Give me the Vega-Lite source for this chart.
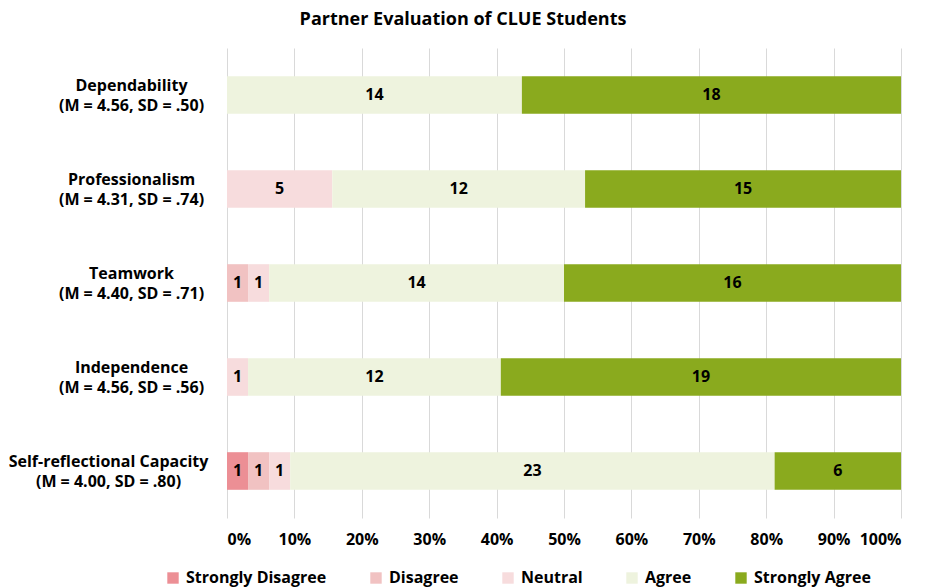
{
  "$schema": "https://vega.github.io/schema/vega-lite/v6.json",
  "width": 674,
  "height": 470,
  "autosize": "none",
  "padding": {"left": 227, "top": 48, "right": 24, "bottom": 70},
  "background": "white",
  "title": {
    "text": "Partner Evaluation of CLUE Students",
    "anchor": "middle",
    "dx": -101,
    "offset": 19,
    "font": "Open Sans",
    "fontSize": 18,
    "fontWeight": "bold",
    "color": "#000000"
  },
  "config": {"view": {"stroke": null}, "font": "Open Sans"},
  "data": {
    "values": [
      {"item": "Dependability|(M = 4.56, SD = .50)", "rank": 1, "response": "Agree", "ord": 4, "count": 14},
      {"item": "Dependability|(M = 4.56, SD = .50)", "rank": 1, "response": "Strongly Agree", "ord": 5, "count": 18},
      {"item": "Professionalism|(M = 4.31, SD = .74)", "rank": 2, "response": "Neutral", "ord": 3, "count": 5},
      {"item": "Professionalism|(M = 4.31, SD = .74)", "rank": 2, "response": "Agree", "ord": 4, "count": 12},
      {"item": "Professionalism|(M = 4.31, SD = .74)", "rank": 2, "response": "Strongly Agree", "ord": 5, "count": 15},
      {"item": "Teamwork|(M = 4.40, SD = .71)", "rank": 3, "response": "Disagree", "ord": 2, "count": 1},
      {"item": "Teamwork|(M = 4.40, SD = .71)", "rank": 3, "response": "Neutral", "ord": 3, "count": 1},
      {"item": "Teamwork|(M = 4.40, SD = .71)", "rank": 3, "response": "Agree", "ord": 4, "count": 14},
      {"item": "Teamwork|(M = 4.40, SD = .71)", "rank": 3, "response": "Strongly Agree", "ord": 5, "count": 16},
      {"item": "Independence|(M = 4.56, SD = .56)", "rank": 4, "response": "Neutral", "ord": 3, "count": 1},
      {"item": "Independence|(M = 4.56, SD = .56)", "rank": 4, "response": "Agree", "ord": 4, "count": 12},
      {"item": "Independence|(M = 4.56, SD = .56)", "rank": 4, "response": "Strongly Agree", "ord": 5, "count": 19},
      {"item": "Self-reflectional Capacity|(M = 4.00, SD = .80)", "rank": 5, "response": "Strongly Disagree", "ord": 1, "count": 1},
      {"item": "Self-reflectional Capacity|(M = 4.00, SD = .80)", "rank": 5, "response": "Disagree", "ord": 2, "count": 1},
      {"item": "Self-reflectional Capacity|(M = 4.00, SD = .80)", "rank": 5, "response": "Neutral", "ord": 3, "count": 1},
      {"item": "Self-reflectional Capacity|(M = 4.00, SD = .80)", "rank": 5, "response": "Agree", "ord": 4, "count": 23},
      {"item": "Self-reflectional Capacity|(M = 4.00, SD = .80)", "rank": 5, "response": "Strongly Agree", "ord": 5, "count": 6}
    ]
  },
  "transform": [
    {"stack": "count", "groupby": ["item"], "sort": [{"field": "ord", "order": "ascending"}], "offset": "normalize", "as": ["x0", "x1"]},
    {"calculate": "(datum.x0 + datum.x1) / 2", "as": "xm"}
  ],
  "encoding": {
    "y": {
      "field": "item",
      "type": "nominal",
      "sort": {"field": "rank", "op": "min", "order": "ascending"},
      "scale": {"paddingInner": 0.6, "paddingOuter": 0.3},
      "axis": {
        "title": null,
        "domain": false,
        "ticks": false,
        "labelExpr": "split(datum.label, '|')",
        "labelFont": "Open Sans",
        "labelFontSize": 16,
        "labelFontWeight": "bold",
        "labelColor": "#000000",
        "labelAlign": "center",
        "labelPadding": {"condition": {"test": "indexof(datum.value, 'Self') == 0", "value": 119}, "value": 96},
        "labelLineHeight": 20,
        "labelOffset": -9,
        "labelLimit": 300
      }
    }
  },
  "layer": [
    {
      "mark": {"type": "bar"},
      "encoding": {
        "x": {
          "field": "x0",
          "type": "quantitative",
          "scale": {"domain": [0, 1]},
          "axis": {
            "title": null,
            "format": ".0%",
            "values": [0, 0.1, 0.2, 0.3, 0.4, 0.5, 0.6, 0.7, 0.8, 0.9, 1],
            "labelOverlap": false,
            "domain": false,
            "ticks": false,
            "grid": true,
            "gridColor": "#d9d9d9",
            "gridWidth": 1,
            "labelFont": "Open Sans",
            "labelFontSize": 16,
            "labelFontWeight": "bold",
            "labelColor": "#000000",
            "labelPadding": 13
          }
        },
        "x2": {"field": "x1"},
        "color": {
          "field": "response",
          "type": "nominal",
          "scale": {
            "domain": ["Strongly Disagree", "Disagree", "Neutral", "Agree", "Strongly Agree"],
            "range": ["#ec8f95", "#f1c2c2", "#f7dcdd", "#eef3de", "#8aaa1e"]
          },
          "legend": {
            "title": null,
            "orient": "none",
            "direction": "horizontal",
            "legendX": -62,
            "legendY": 522,
            "symbolType": "square",
            "symbolSize": 130,
            "symbolStrokeWidth": 0,
            "labelFont": "Open Sans",
            "labelFontSize": 16,
            "labelFontWeight": "bold",
            "labelColor": "#000000",
            "columnPadding": 41,
            "labelOffset": 5,
            "labelLimit": 300
          }
        }
      }
    },
    {
      "mark": {"type": "text", "font": "Open Sans", "fontSize": 16, "fontWeight": "bold", "color": "#000000"},
      "encoding": {
        "x": {
          "field": "xm",
          "type": "quantitative",
          "axis": {
            "title": null,
            "format": ".0%",
            "values": [0, 0.1, 0.2, 0.3, 0.4, 0.5, 0.6, 0.7, 0.8, 0.9, 1],
            "labelOverlap": false,
            "domain": false,
            "ticks": false,
            "grid": true,
            "gridColor": "#d9d9d9",
            "gridWidth": 1,
            "labelFont": "Open Sans",
            "labelFontSize": 16,
            "labelFontWeight": "bold",
            "labelColor": "#000000",
            "labelPadding": 13
          }
        },
        "text": {"field": "count", "type": "quantitative"}
      }
    }
  ]
}
